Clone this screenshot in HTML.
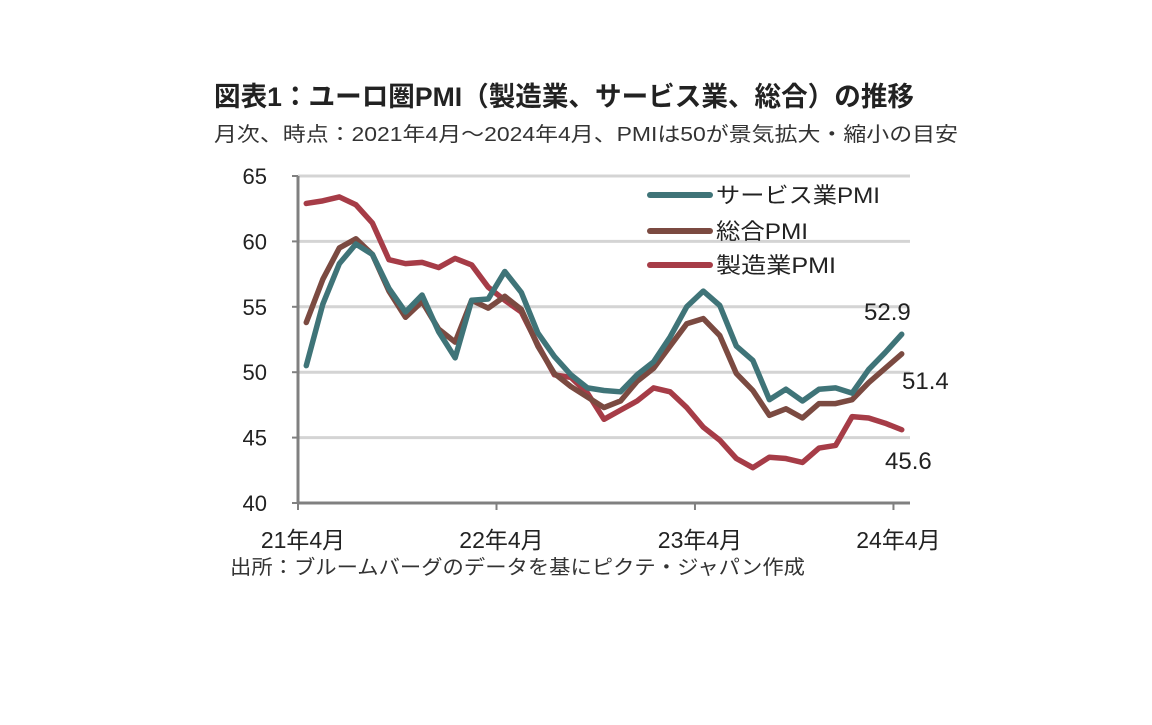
<!DOCTYPE html>
<html><head><meta charset="utf-8"><style>
body{margin:0;background:#fff;width:1152px;height:720px;overflow:hidden;font-family:"Liberation Sans","Noto Sans CJK JP",sans-serif;}
</style></head><body>
<svg width="1152" height="720" xmlns="http://www.w3.org/2000/svg" style="font-family:'Liberation Sans','Noto Sans CJK JP',sans-serif">
<text x="214" y="106" font-size="27" font-weight="bold" fill="#222" textLength="700" lengthAdjust="spacingAndGlyphs">図表1：ユーロ圏PMI（製造業、サービス業、総合）の推移</text>
<text x="214" y="141" font-size="20" fill="#333" textLength="744" lengthAdjust="spacingAndGlyphs">月次、時点：2021年4月～2024年4月、PMIは50が景気拡大・縮小の目安</text>
<g id="grid"></g>
<g id="axes"></g>
<g id="lines"></g>
<g>
<line x1="650" y1="195" x2="710" y2="195" stroke="#3f7478" stroke-width="6" stroke-linecap="round"/>
<text x="716" y="203" font-size="22" fill="#222" textLength="164" lengthAdjust="spacingAndGlyphs">サービス業PMI</text>
<line x1="650" y1="231" x2="710" y2="231" stroke="#7b4a41" stroke-width="6" stroke-linecap="round"/>
<text x="716" y="239" font-size="22" fill="#222" textLength="92" lengthAdjust="spacingAndGlyphs">総合PMI</text>
<line x1="650" y1="265" x2="710" y2="265" stroke="#a63c47" stroke-width="6" stroke-linecap="round"/>
<text x="716" y="273" font-size="22" fill="#222" textLength="120" lengthAdjust="spacingAndGlyphs">製造業PMI</text>
</g>
<text x="864" y="320" font-size="24" fill="#222">52.9</text>
<text x="902" y="389" font-size="24" fill="#222">51.4</text>
<text x="885" y="469" font-size="24" fill="#222">45.6</text>
<text x="230" y="574" font-size="20" fill="#333" textLength="575" lengthAdjust="spacingAndGlyphs">出所：ブルームバーグのデータを基にピクテ・ジャパン作成</text>
</svg>
<script>
const yTicks=[40,45,50,55,60,65];
const xTickLabels=["21年4月","22年4月","23年4月","24年4月"];
const manufacturing=[62.9,63.1,63.4,62.8,61.4,58.6,58.3,58.4,58.0,58.7,58.2,56.5,55.5,54.6,52.1,49.8,49.6,48.4,46.4,47.1,47.8,48.8,48.5,47.3,45.8,44.8,43.4,42.7,43.5,43.4,43.1,44.2,44.4,46.6,46.5,46.1,45.6];
const services=[50.5,55.2,58.3,59.8,59.0,56.4,54.6,55.9,53.1,51.1,55.5,55.6,57.7,56.1,53.0,51.2,49.8,48.8,48.6,48.5,49.8,50.8,52.7,55.0,56.2,55.1,52.0,50.9,47.9,48.7,47.8,48.7,48.8,48.4,50.2,51.5,52.9];
const composite=[53.8,57.1,59.5,60.2,59.0,56.2,54.2,55.4,53.3,52.3,55.5,54.9,55.8,54.8,52.0,49.9,48.9,48.1,47.3,47.8,49.3,50.3,52.0,53.7,54.1,52.8,49.9,48.6,46.7,47.2,46.5,47.6,47.6,47.9,49.2,50.3,51.4];
const NS="http://www.w3.org/2000/svg";
const X0=298,X1=910,Y0=503,Y1=176,N=services.length;
const cw=(X1-X0)/N;
function xPos(i){return X0+cw*(i+0.5);}
function xBoundary(i){return X0+cw*i;}
function yPos(v){return Y0-(v-40)/(65-40)*(Y0-Y1);}
function mk(tag,attrs,parent){const e=document.createElementNS(NS,tag);for(const k in attrs)e.setAttribute(k,attrs[k]);parent.appendChild(e);return e;}
const grid=document.getElementById('grid'),axes=document.getElementById('axes'),lines=document.getElementById('lines');
yTicks.forEach(v=>{
  if(v>40){const g=mk('line',{x1:X0,x2:X1,y1:yPos(v),y2:yPos(v),stroke:'#d4d4d4','stroke-width':3},grid);
  
  }
  const t=mk('line',{x1:X0-6,x2:X0,y1:yPos(v),y2:yPos(v),stroke:'#808080','stroke-width':2},axes);
  
  
  const l=mk('text',{x:X0-31,y:yPos(v)+8,'font-size':22,fill:'#222','text-anchor':'end'},axes);
  l.textContent=v;
  
  
});
const ya=mk('line',{x1:X0,x2:X0,y1:Y1,y2:Y0,stroke:'#808080','stroke-width':3},axes);


const xa=mk('line',{x1:X0,x2:X1,y1:Y0,y2:Y0,stroke:'#808080','stroke-width':3},axes);


xTickLabels.forEach((s,k)=>{
  const x=xBoundary(k*12);
  const t=mk('line',{x1:x,x2:x,y1:Y0,y2:Y0+7,stroke:'#808080','stroke-width':2},axes);
  
  
  const l=mk('text',{x:x+5,y:548,'font-size':23,fill:'#222','text-anchor':'middle'},axes);
  l.textContent=s;
  
  
});
function drawLine(arr,color,name){
  const p=mk('polyline',{points:arr.map((v,i)=>xPos(i)+','+yPos(v)).join(' '),fill:'none',stroke:color,'stroke-width':5.5,'stroke-linejoin':'round','stroke-linecap':'round'},lines);
  
  
}
drawLine(manufacturing,'#a63c47','line-manufacturing');
drawLine(composite,'#7b4a41','line-composite');
drawLine(services,'#3f7478','line-services');
</script>
</body></html>
